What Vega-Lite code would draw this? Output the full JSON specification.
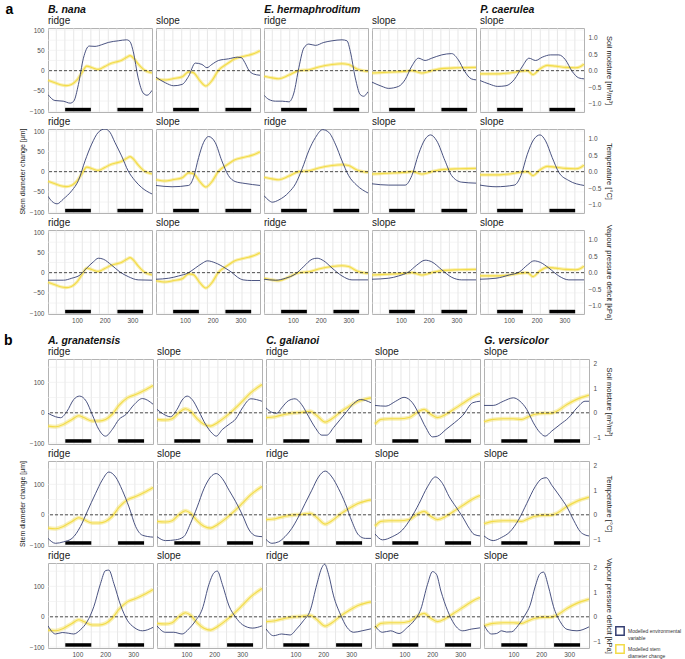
{
"$schema":"https://vega.github.io/schema/vega-lite/v6.json",
"padding":{"left":3,"top":3,"right":3,"bottom":3},
"config":{"font":"Liberation Sans","view":{"stroke":"#b3b3b3","strokeWidth":1},
"axis":{"labelFontSize":6.5,"labelColor":"#4d4d4d","titleFontSize":7.5,"titleFontWeight":"normal","titleColor":"#1a1a1a","domain":false,"ticks":false,"labelPadding":3,"titlePadding":4,"grid":false},
"header":{"labelFontSize":10,"labelColor":"#1a1a1a","labelAnchor":"start","labelPadding":2},
"concat":{"spacing":4},"facet":{"spacing":4}},
"datasets":{
"bars":[{"start":57,"end":150},{"start":246,"end":339}],
"months":[{"m":25},{"m":56},{"m":88},{"m":119},{"m":150},{"m":181},{"m":213},{"m":244},{"m":275},{"m":306},{"m":338}],
"gA":[{"g":-100},{"g":-75},{"g":-50},{"g":-25},{"g":0},{"g":25},{"g":50},{"g":75},{"g":100}],
"gB":[{"g":-100},{"g":-50},{"g":0},{"g":50},{"g":100},{"g":150}],
"a":[
{"p":"B. nana ridge","v":"S","d":-5,"y":-24},{"p":"B. nana ridge","v":"S","d":20,"y":-30},{"p":"B. nana ridge","v":"S","d":40,"y":-35},{"p":"B. nana ridge","v":"S","d":60,"y":-37},{"p":"B. nana ridge","v":"S","d":80,"y":-34},{"p":"B. nana ridge","v":"S","d":100,"y":-23},{"p":"B. nana ridge","v":"S","d":117,"y":-6},{"p":"B. nana ridge","v":"S","d":135,"y":11},{"p":"B. nana ridge","v":"S","d":155,"y":7},{"p":"B. nana ridge","v":"S","d":177,"y":3},{"p":"B. nana ridge","v":"S","d":200,"y":10},{"p":"B. nana ridge","v":"S","d":220,"y":17},{"p":"B. nana ridge","v":"S","d":240,"y":21},{"p":"B. nana ridge","v":"S","d":260,"y":25},{"p":"B. nana ridge","v":"S","d":280,"y":33},{"p":"B. nana ridge","v":"S","d":292,"y":37},{"p":"B. nana ridge","v":"S","d":305,"y":30},{"p":"B. nana ridge","v":"S","d":320,"y":17},{"p":"B. nana ridge","v":"S","d":340,"y":3},{"p":"B. nana ridge","v":"S","d":371,"y":-6},
{"p":"B. nana slope","v":"S","d":-5,"y":-20},{"p":"B. nana slope","v":"S","d":30,"y":-23},{"p":"B. nana slope","v":"S","d":55,"y":-20},{"p":"B. nana slope","v":"S","d":90,"y":-15},{"p":"B. nana slope","v":"S","d":113,"y":-3},{"p":"B. nana slope","v":"S","d":130,"y":-5},{"p":"B. nana slope","v":"S","d":155,"y":-26},{"p":"B. nana slope","v":"S","d":175,"y":-38},{"p":"B. nana slope","v":"S","d":197,"y":-25},{"p":"B. nana slope","v":"S","d":220,"y":0},{"p":"B. nana slope","v":"S","d":255,"y":18},{"p":"B. nana slope","v":"S","d":280,"y":29},{"p":"B. nana slope","v":"S","d":305,"y":34},{"p":"B. nana slope","v":"S","d":330,"y":38},{"p":"B. nana slope","v":"S","d":350,"y":42},{"p":"B. nana slope","v":"S","d":371,"y":49},
{"p":"E. hermaphroditum ridge","v":"S","d":-5,"y":-14},{"p":"E. hermaphroditum ridge","v":"S","d":25,"y":-18},{"p":"E. hermaphroditum ridge","v":"S","d":49,"y":-20},{"p":"E. hermaphroditum ridge","v":"S","d":85,"y":-11},{"p":"E. hermaphroditum ridge","v":"S","d":121,"y":0},{"p":"E. hermaphroditum ridge","v":"S","d":157,"y":2},{"p":"E. hermaphroditum ridge","v":"S","d":193,"y":9},{"p":"E. hermaphroditum ridge","v":"S","d":241,"y":15},{"p":"E. hermaphroditum ridge","v":"S","d":277,"y":17},{"p":"E. hermaphroditum ridge","v":"S","d":301,"y":15},{"p":"E. hermaphroditum ridge","v":"S","d":331,"y":4},{"p":"E. hermaphroditum ridge","v":"S","d":371,"y":-2},
{"p":"E. hermaphroditum slope","v":"S","d":-5,"y":-6},{"p":"E. hermaphroditum slope","v":"S","d":55,"y":-4},{"p":"E. hermaphroditum slope","v":"S","d":115,"y":-2},{"p":"E. hermaphroditum slope","v":"S","d":139,"y":0},{"p":"E. hermaphroditum slope","v":"S","d":175,"y":-6},{"p":"E. hermaphroditum slope","v":"S","d":211,"y":0},{"p":"E. hermaphroditum slope","v":"S","d":247,"y":5},{"p":"E. hermaphroditum slope","v":"S","d":307,"y":7},{"p":"E. hermaphroditum slope","v":"S","d":371,"y":8},
{"p":"P. caerulea slope","v":"S","d":-5,"y":-8},{"p":"P. caerulea slope","v":"S","d":30,"y":-8},{"p":"P. caerulea slope","v":"S","d":65,"y":-8},{"p":"P. caerulea slope","v":"S","d":101,"y":-6},{"p":"P. caerulea slope","v":"S","d":137,"y":-2},{"p":"P. caerulea slope","v":"S","d":166,"y":0},{"p":"P. caerulea slope","v":"S","d":187,"y":-10},{"p":"P. caerulea slope","v":"S","d":208,"y":2},{"p":"P. caerulea slope","v":"S","d":238,"y":13},{"p":"P. caerulea slope","v":"S","d":268,"y":11},{"p":"P. caerulea slope","v":"S","d":304,"y":8},{"p":"P. caerulea slope","v":"S","d":340,"y":7},{"p":"P. caerulea slope","v":"S","d":355,"y":9},{"p":"P. caerulea slope","v":"S","d":371,"y":16},
{"p":"B. nana ridge","v":"SM","d":-5,"y":-0.73},{"p":"B. nana ridge","v":"SM","d":20,"y":-0.91},{"p":"B. nana ridge","v":"SM","d":50,"y":-0.93},{"p":"B. nana ridge","v":"SM","d":75,"y":-0.99},{"p":"B. nana ridge","v":"SM","d":88,"y":-0.93},{"p":"B. nana ridge","v":"SM","d":105,"y":-0.42},{"p":"B. nana ridge","v":"SM","d":123,"y":0.38},{"p":"B. nana ridge","v":"SM","d":144,"y":0.75},{"p":"B. nana ridge","v":"SM","d":165,"y":0.74},{"p":"B. nana ridge","v":"SM","d":189,"y":0.79},{"p":"B. nana ridge","v":"SM","d":213,"y":0.86},{"p":"B. nana ridge","v":"SM","d":249,"y":0.91},{"p":"B. nana ridge","v":"SM","d":279,"y":0.94},{"p":"B. nana ridge","v":"SM","d":291,"y":0.89},{"p":"B. nana ridge","v":"SM","d":303,"y":0.59},{"p":"B. nana ridge","v":"SM","d":321,"y":-0.22},{"p":"B. nana ridge","v":"SM","d":339,"y":-0.68},{"p":"B. nana ridge","v":"SM","d":353,"y":-0.75},{"p":"B. nana ridge","v":"SM","d":371,"y":-0.6},
{"p":"B. nana slope","v":"SM","d":-5,"y":-0.2},{"p":"B. nana slope","v":"SM","d":29,"y":-0.37},{"p":"B. nana slope","v":"SM","d":59,"y":-0.46},{"p":"B. nana slope","v":"SM","d":89,"y":-0.42},{"p":"B. nana slope","v":"SM","d":113,"y":-0.17},{"p":"B. nana slope","v":"SM","d":137,"y":0.23},{"p":"B. nana slope","v":"SM","d":161,"y":0.19},{"p":"B. nana slope","v":"SM","d":179,"y":0.09},{"p":"B. nana slope","v":"SM","d":197,"y":0.19},{"p":"B. nana slope","v":"SM","d":221,"y":0.31},{"p":"B. nana slope","v":"SM","d":257,"y":0.36},{"p":"B. nana slope","v":"SM","d":290,"y":0.41},{"p":"B. nana slope","v":"SM","d":303,"y":0.4},{"p":"B. nana slope","v":"SM","d":316,"y":0.25},{"p":"B. nana slope","v":"SM","d":330,"y":0.02},{"p":"B. nana slope","v":"SM","d":347,"y":-0.1},{"p":"B. nana slope","v":"SM","d":371,"y":-0.14},
{"p":"E. hermaphroditum ridge","v":"SM","d":-5,"y":-0.75},{"p":"E. hermaphroditum ridge","v":"SM","d":13,"y":-0.88},{"p":"E. hermaphroditum ridge","v":"SM","d":37,"y":-0.93},{"p":"E. hermaphroditum ridge","v":"SM","d":61,"y":-0.93},{"p":"E. hermaphroditum ridge","v":"SM","d":85,"y":-0.95},{"p":"E. hermaphroditum ridge","v":"SM","d":103,"y":-0.68},{"p":"E. hermaphroditum ridge","v":"SM","d":121,"y":0.09},{"p":"E. hermaphroditum ridge","v":"SM","d":139,"y":0.69},{"p":"E. hermaphroditum ridge","v":"SM","d":157,"y":0.81},{"p":"E. hermaphroditum ridge","v":"SM","d":181,"y":0.77},{"p":"E. hermaphroditum ridge","v":"SM","d":211,"y":0.86},{"p":"E. hermaphroditum ridge","v":"SM","d":241,"y":0.91},{"p":"E. hermaphroditum ridge","v":"SM","d":277,"y":0.94},{"p":"E. hermaphroditum ridge","v":"SM","d":295,"y":0.91},{"p":"E. hermaphroditum ridge","v":"SM","d":307,"y":0.59},{"p":"E. hermaphroditum ridge","v":"SM","d":325,"y":-0.22},{"p":"E. hermaphroditum ridge","v":"SM","d":343,"y":-0.73},{"p":"E. hermaphroditum ridge","v":"SM","d":355,"y":-0.78},{"p":"E. hermaphroditum ridge","v":"SM","d":371,"y":-0.64},
{"p":"E. hermaphroditum slope","v":"SM","d":-5,"y":-0.35},{"p":"E. hermaphroditum slope","v":"SM","d":31,"y":-0.48},{"p":"E. hermaphroditum slope","v":"SM","d":55,"y":-0.54},{"p":"E. hermaphroditum slope","v":"SM","d":91,"y":-0.48},{"p":"E. hermaphroditum slope","v":"SM","d":115,"y":-0.27},{"p":"E. hermaphroditum slope","v":"SM","d":139,"y":0.14},{"p":"E. hermaphroditum slope","v":"SM","d":163,"y":0.38},{"p":"E. hermaphroditum slope","v":"SM","d":187,"y":0.31},{"p":"E. hermaphroditum slope","v":"SM","d":211,"y":0.38},{"p":"E. hermaphroditum slope","v":"SM","d":247,"y":0.48},{"p":"E. hermaphroditum slope","v":"SM","d":283,"y":0.52},{"p":"E. hermaphroditum slope","v":"SM","d":307,"y":0.33},{"p":"E. hermaphroditum slope","v":"SM","d":330,"y":-0.02},{"p":"E. hermaphroditum slope","v":"SM","d":354,"y":-0.25},{"p":"E. hermaphroditum slope","v":"SM","d":371,"y":-0.28},
{"p":"P. caerulea slope","v":"SM","d":-5,"y":-0.3},{"p":"P. caerulea slope","v":"SM","d":29,"y":-0.41},{"p":"P. caerulea slope","v":"SM","d":59,"y":-0.48},{"p":"P. caerulea slope","v":"SM","d":89,"y":-0.46},{"p":"P. caerulea slope","v":"SM","d":119,"y":-0.27},{"p":"P. caerulea slope","v":"SM","d":149,"y":0.14},{"p":"P. caerulea slope","v":"SM","d":172,"y":0.38},{"p":"P. caerulea slope","v":"SM","d":196,"y":0.31},{"p":"P. caerulea slope","v":"SM","d":220,"y":0.41},{"p":"P. caerulea slope","v":"SM","d":250,"y":0.48},{"p":"P. caerulea slope","v":"SM","d":280,"y":0.48},{"p":"P. caerulea slope","v":"SM","d":304,"y":0.33},{"p":"P. caerulea slope","v":"SM","d":328,"y":-0.02},{"p":"P. caerulea slope","v":"SM","d":352,"y":-0.22},{"p":"P. caerulea slope","v":"SM","d":371,"y":-0.25},
{"p":"B. nana ridge","v":"T","d":-5,"y":-0.75},{"p":"B. nana ridge","v":"T","d":10,"y":-0.91},{"p":"B. nana ridge","v":"T","d":28,"y":-0.98},{"p":"B. nana ridge","v":"T","d":51,"y":-0.83},{"p":"B. nana ridge","v":"T","d":81,"y":-0.58},{"p":"B. nana ridge","v":"T","d":105,"y":-0.27},{"p":"B. nana ridge","v":"T","d":129,"y":0.33},{"p":"B. nana ridge","v":"T","d":153,"y":0.84},{"p":"B. nana ridge","v":"T","d":177,"y":1.2},{"p":"B. nana ridge","v":"T","d":201,"y":1.3},{"p":"B. nana ridge","v":"T","d":219,"y":1.2},{"p":"B. nana ridge","v":"T","d":237,"y":0.89},{"p":"B. nana ridge","v":"T","d":261,"y":0.48},{"p":"B. nana ridge","v":"T","d":285,"y":0.02},{"p":"B. nana ridge","v":"T","d":309,"y":-0.27},{"p":"B. nana ridge","v":"T","d":333,"y":-0.48},{"p":"B. nana ridge","v":"T","d":371,"y":-0.68},
{"p":"B. nana slope","v":"T","d":-5,"y":-0.42},{"p":"B. nana slope","v":"T","d":53,"y":-0.46},{"p":"B. nana slope","v":"T","d":113,"y":-0.42},{"p":"B. nana slope","v":"T","d":131,"y":-0.17},{"p":"B. nana slope","v":"T","d":149,"y":0.43},{"p":"B. nana slope","v":"T","d":167,"y":0.89},{"p":"B. nana slope","v":"T","d":185,"y":1.07},{"p":"B. nana slope","v":"T","d":209,"y":0.89},{"p":"B. nana slope","v":"T","d":233,"y":0.33},{"p":"B. nana slope","v":"T","d":257,"y":-0.12},{"p":"B. nana slope","v":"T","d":281,"y":-0.3},{"p":"B. nana slope","v":"T","d":317,"y":-0.36},{"p":"B. nana slope","v":"T","d":371,"y":-0.42},
{"p":"E. hermaphroditum ridge","v":"T","d":-5,"y":-0.73},{"p":"E. hermaphroditum ridge","v":"T","d":13,"y":-0.88},{"p":"E. hermaphroditum ridge","v":"T","d":25,"y":-0.93},{"p":"E. hermaphroditum ridge","v":"T","d":49,"y":-0.86},{"p":"E. hermaphroditum ridge","v":"T","d":85,"y":-0.63},{"p":"E. hermaphroditum ridge","v":"T","d":109,"y":-0.37},{"p":"E. hermaphroditum ridge","v":"T","d":133,"y":0.09},{"p":"E. hermaphroditum ridge","v":"T","d":157,"y":0.64},{"p":"E. hermaphroditum ridge","v":"T","d":181,"y":1.04},{"p":"E. hermaphroditum ridge","v":"T","d":207,"y":1.28},{"p":"E. hermaphroditum ridge","v":"T","d":229,"y":1.2},{"p":"E. hermaphroditum ridge","v":"T","d":253,"y":0.84},{"p":"E. hermaphroditum ridge","v":"T","d":277,"y":0.33},{"p":"E. hermaphroditum ridge","v":"T","d":301,"y":-0.12},{"p":"E. hermaphroditum ridge","v":"T","d":331,"y":-0.42},{"p":"E. hermaphroditum ridge","v":"T","d":371,"y":-0.65},
{"p":"E. hermaphroditum slope","v":"T","d":-5,"y":-0.37},{"p":"E. hermaphroditum slope","v":"T","d":55,"y":-0.41},{"p":"E. hermaphroditum slope","v":"T","d":115,"y":-0.41},{"p":"E. hermaphroditum slope","v":"T","d":139,"y":-0.12},{"p":"E. hermaphroditum slope","v":"T","d":163,"y":0.53},{"p":"E. hermaphroditum slope","v":"T","d":187,"y":0.99},{"p":"E. hermaphroditum slope","v":"T","d":207,"y":1.12},{"p":"E. hermaphroditum slope","v":"T","d":229,"y":0.94},{"p":"E. hermaphroditum slope","v":"T","d":259,"y":0.33},{"p":"E. hermaphroditum slope","v":"T","d":283,"y":-0.12},{"p":"E. hermaphroditum slope","v":"T","d":319,"y":-0.32},{"p":"E. hermaphroditum slope","v":"T","d":371,"y":-0.35},
{"p":"P. caerulea slope","v":"T","d":-5,"y":-0.41},{"p":"P. caerulea slope","v":"T","d":53,"y":-0.46},{"p":"P. caerulea slope","v":"T","d":119,"y":-0.41},{"p":"P. caerulea slope","v":"T","d":143,"y":-0.12},{"p":"P. caerulea slope","v":"T","d":166,"y":0.53},{"p":"P. caerulea slope","v":"T","d":190,"y":0.99},{"p":"P. caerulea slope","v":"T","d":212,"y":1.12},{"p":"P. caerulea slope","v":"T","d":232,"y":0.94},{"p":"P. caerulea slope","v":"T","d":256,"y":0.43},{"p":"P. caerulea slope","v":"T","d":280,"y":-0.02},{"p":"P. caerulea slope","v":"T","d":316,"y":-0.27},{"p":"P. caerulea slope","v":"T","d":371,"y":-0.42},
{"p":"B. nana ridge","v":"VPD","d":-5,"y":-0.23},{"p":"B. nana ridge","v":"VPD","d":51,"y":-0.23},{"p":"B. nana ridge","v":"VPD","d":81,"y":-0.17},{"p":"B. nana ridge","v":"VPD","d":111,"y":-0.07},{"p":"B. nana ridge","v":"VPD","d":135,"y":0.14},{"p":"B. nana ridge","v":"VPD","d":159,"y":0.33},{"p":"B. nana ridge","v":"VPD","d":177,"y":0.44},{"p":"B. nana ridge","v":"VPD","d":195,"y":0.41},{"p":"B. nana ridge","v":"VPD","d":225,"y":0.23},{"p":"B. nana ridge","v":"VPD","d":255,"y":0.02},{"p":"B. nana ridge","v":"VPD","d":285,"y":-0.12},{"p":"B. nana ridge","v":"VPD","d":321,"y":-0.22},{"p":"B. nana ridge","v":"VPD","d":371,"y":-0.23},
{"p":"B. nana slope","v":"VPD","d":-5,"y":-0.2},{"p":"B. nana slope","v":"VPD","d":41,"y":-0.17},{"p":"B. nana slope","v":"VPD","d":77,"y":-0.1},{"p":"B. nana slope","v":"VPD","d":113,"y":0.0},{"p":"B. nana slope","v":"VPD","d":137,"y":0.14},{"p":"B. nana slope","v":"VPD","d":161,"y":0.28},{"p":"B. nana slope","v":"VPD","d":181,"y":0.36},{"p":"B. nana slope","v":"VPD","d":209,"y":0.3},{"p":"B. nana slope","v":"VPD","d":245,"y":0.14},{"p":"B. nana slope","v":"VPD","d":270,"y":0.0},{"p":"B. nana slope","v":"VPD","d":290,"y":-0.14},{"p":"B. nana slope","v":"VPD","d":310,"y":-0.22},{"p":"B. nana slope","v":"VPD","d":340,"y":-0.24},{"p":"B. nana slope","v":"VPD","d":371,"y":-0.24},
{"p":"E. hermaphroditum ridge","v":"VPD","d":-5,"y":-0.2},{"p":"E. hermaphroditum ridge","v":"VPD","d":37,"y":-0.23},{"p":"E. hermaphroditum ridge","v":"VPD","d":73,"y":-0.17},{"p":"E. hermaphroditum ridge","v":"VPD","d":109,"y":-0.04},{"p":"E. hermaphroditum ridge","v":"VPD","d":139,"y":0.19},{"p":"E. hermaphroditum ridge","v":"VPD","d":169,"y":0.41},{"p":"E. hermaphroditum ridge","v":"VPD","d":187,"y":0.44},{"p":"E. hermaphroditum ridge","v":"VPD","d":211,"y":0.36},{"p":"E. hermaphroditum ridge","v":"VPD","d":241,"y":0.14},{"p":"E. hermaphroditum ridge","v":"VPD","d":277,"y":-0.1},{"p":"E. hermaphroditum ridge","v":"VPD","d":313,"y":-0.22},{"p":"E. hermaphroditum ridge","v":"VPD","d":371,"y":-0.22},
{"p":"E. hermaphroditum slope","v":"VPD","d":-5,"y":-0.2},{"p":"E. hermaphroditum slope","v":"VPD","d":55,"y":-0.17},{"p":"E. hermaphroditum slope","v":"VPD","d":91,"y":-0.1},{"p":"E. hermaphroditum slope","v":"VPD","d":127,"y":0.02},{"p":"E. hermaphroditum slope","v":"VPD","d":157,"y":0.23},{"p":"E. hermaphroditum slope","v":"VPD","d":187,"y":0.38},{"p":"E. hermaphroditum slope","v":"VPD","d":211,"y":0.33},{"p":"E. hermaphroditum slope","v":"VPD","d":247,"y":0.09},{"p":"E. hermaphroditum slope","v":"VPD","d":283,"y":-0.14},{"p":"E. hermaphroditum slope","v":"VPD","d":319,"y":-0.22},{"p":"E. hermaphroditum slope","v":"VPD","d":371,"y":-0.22},
{"p":"P. caerulea slope","v":"VPD","d":-5,"y":-0.2},{"p":"P. caerulea slope","v":"VPD","d":53,"y":-0.17},{"p":"P. caerulea slope","v":"VPD","d":101,"y":-0.07},{"p":"P. caerulea slope","v":"VPD","d":137,"y":0.02},{"p":"P. caerulea slope","v":"VPD","d":166,"y":0.23},{"p":"P. caerulea slope","v":"VPD","d":190,"y":0.36},{"p":"P. caerulea slope","v":"VPD","d":214,"y":0.31},{"p":"P. caerulea slope","v":"VPD","d":244,"y":0.14},{"p":"P. caerulea slope","v":"VPD","d":280,"y":-0.1},{"p":"P. caerulea slope","v":"VPD","d":316,"y":-0.22},{"p":"P. caerulea slope","v":"VPD","d":371,"y":-0.22}
],
"b":[
{"p":"A. granatensis ridge","v":"S","d":-5,"y":-44},{"p":"A. granatensis ridge","v":"S","d":22,"y":-46},{"p":"A. granatensis ridge","v":"S","d":51,"y":-38},{"p":"A. granatensis ridge","v":"S","d":81,"y":-22},{"p":"A. granatensis ridge","v":"S","d":105,"y":-10},{"p":"A. granatensis ridge","v":"S","d":123,"y":-16},{"p":"A. granatensis ridge","v":"S","d":153,"y":-27},{"p":"A. granatensis ridge","v":"S","d":177,"y":-27},{"p":"A. granatensis ridge","v":"S","d":201,"y":-22},{"p":"A. granatensis ridge","v":"S","d":225,"y":-5},{"p":"A. granatensis ridge","v":"S","d":249,"y":24},{"p":"A. granatensis ridge","v":"S","d":279,"y":49},{"p":"A. granatensis ridge","v":"S","d":309,"y":60},{"p":"A. granatensis ridge","v":"S","d":339,"y":73},{"p":"A. granatensis ridge","v":"S","d":371,"y":90},
{"p":"A. granatensis slope","v":"S","d":-5,"y":-22},{"p":"A. granatensis slope","v":"S","d":25,"y":-24},{"p":"A. granatensis slope","v":"S","d":49,"y":-20},{"p":"A. granatensis slope","v":"S","d":73,"y":0},{"p":"A. granatensis slope","v":"S","d":97,"y":13},{"p":"A. granatensis slope","v":"S","d":115,"y":5},{"p":"A. granatensis slope","v":"S","d":139,"y":-20},{"p":"A. granatensis slope","v":"S","d":163,"y":-38},{"p":"A. granatensis slope","v":"S","d":187,"y":-44},{"p":"A. granatensis slope","v":"S","d":211,"y":-33},{"p":"A. granatensis slope","v":"S","d":241,"y":-13},{"p":"A. granatensis slope","v":"S","d":271,"y":11},{"p":"A. granatensis slope","v":"S","d":301,"y":38},{"p":"A. granatensis slope","v":"S","d":331,"y":66},{"p":"A. granatensis slope","v":"S","d":371,"y":93},
{"p":"C. galianoi ridge","v":"S","d":-5,"y":-16},{"p":"C. galianoi ridge","v":"S","d":28,"y":-13},{"p":"C. galianoi ridge","v":"S","d":63,"y":-5},{"p":"C. galianoi ridge","v":"S","d":99,"y":0},{"p":"C. galianoi ridge","v":"S","d":129,"y":2},{"p":"C. galianoi ridge","v":"S","d":153,"y":5},{"p":"C. galianoi ridge","v":"S","d":177,"y":-9},{"p":"C. galianoi ridge","v":"S","d":207,"y":-31},{"p":"C. galianoi ridge","v":"S","d":231,"y":-20},{"p":"C. galianoi ridge","v":"S","d":261,"y":2},{"p":"C. galianoi ridge","v":"S","d":291,"y":20},{"p":"C. galianoi ridge","v":"S","d":327,"y":38},{"p":"C. galianoi ridge","v":"S","d":371,"y":49},
{"p":"C. galianoi slope","v":"S","d":-5,"y":-38},{"p":"C. galianoi slope","v":"S","d":16,"y":-22},{"p":"C. galianoi slope","v":"S","d":46,"y":-20},{"p":"C. galianoi slope","v":"S","d":81,"y":-20},{"p":"C. galianoi slope","v":"S","d":117,"y":-16},{"p":"C. galianoi slope","v":"S","d":147,"y":2},{"p":"C. galianoi slope","v":"S","d":171,"y":11},{"p":"C. galianoi slope","v":"S","d":195,"y":-5},{"p":"C. galianoi slope","v":"S","d":219,"y":-16},{"p":"C. galianoi slope","v":"S","d":249,"y":-5},{"p":"C. galianoi slope","v":"S","d":285,"y":16},{"p":"C. galianoi slope","v":"S","d":321,"y":38},{"p":"C. galianoi slope","v":"S","d":345,"y":52},{"p":"C. galianoi slope","v":"S","d":371,"y":63},
{"p":"G. versicolor slope","v":"S","d":-5,"y":-30},{"p":"G. versicolor slope","v":"S","d":28,"y":-22},{"p":"G. versicolor slope","v":"S","d":64,"y":-20},{"p":"G. versicolor slope","v":"S","d":100,"y":-20},{"p":"G. versicolor slope","v":"S","d":130,"y":-22},{"p":"G. versicolor slope","v":"S","d":154,"y":-13},{"p":"G. versicolor slope","v":"S","d":178,"y":-5},{"p":"G. versicolor slope","v":"S","d":208,"y":-2},{"p":"G. versicolor slope","v":"S","d":232,"y":-2},{"p":"G. versicolor slope","v":"S","d":256,"y":5},{"p":"G. versicolor slope","v":"S","d":292,"y":27},{"p":"G. versicolor slope","v":"S","d":327,"y":44},{"p":"G. versicolor slope","v":"S","d":371,"y":58},
{"p":"A. granatensis ridge","v":"SM","d":-5,"y":-0.02},{"p":"A. granatensis ridge","v":"SM","d":22,"y":-0.16},{"p":"A. granatensis ridge","v":"SM","d":40,"y":-0.2},{"p":"A. granatensis ridge","v":"SM","d":63,"y":0.06},{"p":"A. granatensis ridge","v":"SM","d":87,"y":0.54},{"p":"A. granatensis ridge","v":"SM","d":108,"y":0.68},{"p":"A. granatensis ridge","v":"SM","d":132,"y":0.47},{"p":"A. granatensis ridge","v":"SM","d":153,"y":-0.06},{"p":"A. granatensis ridge","v":"SM","d":177,"y":-0.68},{"p":"A. granatensis ridge","v":"SM","d":201,"y":-0.95},{"p":"A. granatensis ridge","v":"SM","d":225,"y":-0.68},{"p":"A. granatensis ridge","v":"SM","d":249,"y":-0.27},{"p":"A. granatensis ridge","v":"SM","d":275,"y":-0.06},{"p":"A. granatensis ridge","v":"SM","d":303,"y":0.33},{"p":"A. granatensis ridge","v":"SM","d":333,"y":0.58},{"p":"A. granatensis ridge","v":"SM","d":371,"y":0.35},
{"p":"A. granatensis slope","v":"SM","d":-5,"y":0.14},{"p":"A. granatensis slope","v":"SM","d":19,"y":-0.06},{"p":"A. granatensis slope","v":"SM","d":43,"y":-0.16},{"p":"A. granatensis slope","v":"SM","d":67,"y":0.14},{"p":"A. granatensis slope","v":"SM","d":85,"y":0.52},{"p":"A. granatensis slope","v":"SM","d":103,"y":0.68},{"p":"A. granatensis slope","v":"SM","d":121,"y":0.54},{"p":"A. granatensis slope","v":"SM","d":145,"y":0.06},{"p":"A. granatensis slope","v":"SM","d":169,"y":-0.47},{"p":"A. granatensis slope","v":"SM","d":193,"y":-0.84},{"p":"A. granatensis slope","v":"SM","d":207,"y":-0.95},{"p":"A. granatensis slope","v":"SM","d":229,"y":-0.68},{"p":"A. granatensis slope","v":"SM","d":253,"y":-0.47},{"p":"A. granatensis slope","v":"SM","d":277,"y":-0.25},{"p":"A. granatensis slope","v":"SM","d":301,"y":0.2},{"p":"A. granatensis slope","v":"SM","d":331,"y":0.57},{"p":"A. granatensis slope","v":"SM","d":371,"y":0.47},
{"p":"C. galianoi ridge","v":"SM","d":-5,"y":0.2},{"p":"C. galianoi ridge","v":"SM","d":16,"y":0.02},{"p":"C. galianoi ridge","v":"SM","d":34,"y":-0.02},{"p":"C. galianoi ridge","v":"SM","d":51,"y":0.2},{"p":"C. galianoi ridge","v":"SM","d":75,"y":0.49},{"p":"C. galianoi ridge","v":"SM","d":99,"y":0.57},{"p":"C. galianoi ridge","v":"SM","d":123,"y":0.33},{"p":"C. galianoi ridge","v":"SM","d":147,"y":-0.14},{"p":"C. galianoi ridge","v":"SM","d":171,"y":-0.6},{"p":"C. galianoi ridge","v":"SM","d":195,"y":-0.91},{"p":"C. galianoi ridge","v":"SM","d":213,"y":-0.91},{"p":"C. galianoi ridge","v":"SM","d":237,"y":-0.6},{"p":"C. galianoi ridge","v":"SM","d":261,"y":-0.27},{"p":"C. galianoi ridge","v":"SM","d":285,"y":0.06},{"p":"C. galianoi ridge","v":"SM","d":309,"y":0.38},{"p":"C. galianoi ridge","v":"SM","d":333,"y":0.54},{"p":"C. galianoi ridge","v":"SM","d":371,"y":0.41},
{"p":"C. galianoi slope","v":"SM","d":-5,"y":0.3},{"p":"C. galianoi slope","v":"SM","d":34,"y":0.27},{"p":"C. galianoi slope","v":"SM","d":69,"y":0.47},{"p":"C. galianoi slope","v":"SM","d":99,"y":0.63},{"p":"C. galianoi slope","v":"SM","d":129,"y":0.41},{"p":"C. galianoi slope","v":"SM","d":153,"y":-0.06},{"p":"C. galianoi slope","v":"SM","d":177,"y":-0.6},{"p":"C. galianoi slope","v":"SM","d":201,"y":-0.98},{"p":"C. galianoi slope","v":"SM","d":219,"y":-0.95},{"p":"C. galianoi slope","v":"SM","d":249,"y":-0.68},{"p":"C. galianoi slope","v":"SM","d":279,"y":-0.41},{"p":"C. galianoi slope","v":"SM","d":309,"y":-0.11},{"p":"C. galianoi slope","v":"SM","d":345,"y":0.41},{"p":"C. galianoi slope","v":"SM","d":371,"y":0.47},
{"p":"G. versicolor slope","v":"SM","d":-5,"y":0.3},{"p":"G. versicolor slope","v":"SM","d":28,"y":0.3},{"p":"G. versicolor slope","v":"SM","d":64,"y":0.47},{"p":"G. versicolor slope","v":"SM","d":100,"y":0.61},{"p":"G. versicolor slope","v":"SM","d":124,"y":0.47},{"p":"G. versicolor slope","v":"SM","d":148,"y":0.14},{"p":"G. versicolor slope","v":"SM","d":172,"y":-0.41},{"p":"G. versicolor slope","v":"SM","d":196,"y":-0.81},{"p":"G. versicolor slope","v":"SM","d":214,"y":-0.95},{"p":"G. versicolor slope","v":"SM","d":238,"y":-0.74},{"p":"G. versicolor slope","v":"SM","d":268,"y":-0.47},{"p":"G. versicolor slope","v":"SM","d":298,"y":-0.2},{"p":"G. versicolor slope","v":"SM","d":328,"y":0.2},{"p":"G. versicolor slope","v":"SM","d":357,"y":0.47},{"p":"G. versicolor slope","v":"SM","d":371,"y":0.47},
{"p":"A. granatensis ridge","v":"T","d":-5,"y":-0.96},{"p":"A. granatensis ridge","v":"T","d":22,"y":-1.16},{"p":"A. granatensis ridge","v":"T","d":51,"y":-1.1},{"p":"A. granatensis ridge","v":"T","d":81,"y":-0.96},{"p":"A. granatensis ridge","v":"T","d":111,"y":-0.48},{"p":"A. granatensis ridge","v":"T","d":135,"y":0.12},{"p":"A. granatensis ridge","v":"T","d":165,"y":0.86},{"p":"A. granatensis ridge","v":"T","d":189,"y":1.41},{"p":"A. granatensis ridge","v":"T","d":213,"y":1.74},{"p":"A. granatensis ridge","v":"T","d":237,"y":1.54},{"p":"A. granatensis ridge","v":"T","d":261,"y":1.0},{"p":"A. granatensis ridge","v":"T","d":285,"y":0.32},{"p":"A. granatensis ridge","v":"T","d":309,"y":-0.48},{"p":"A. granatensis ridge","v":"T","d":333,"y":-0.83},{"p":"A. granatensis ridge","v":"T","d":371,"y":-0.91},
{"p":"A. granatensis slope","v":"T","d":-5,"y":-0.89},{"p":"A. granatensis slope","v":"T","d":25,"y":-1.05},{"p":"A. granatensis slope","v":"T","d":61,"y":-1.02},{"p":"A. granatensis slope","v":"T","d":91,"y":-0.89},{"p":"A. granatensis slope","v":"T","d":115,"y":-0.35},{"p":"A. granatensis slope","v":"T","d":139,"y":0.32},{"p":"A. granatensis slope","v":"T","d":163,"y":1.06},{"p":"A. granatensis slope","v":"T","d":187,"y":1.54},{"p":"A. granatensis slope","v":"T","d":207,"y":1.68},{"p":"A. granatensis slope","v":"T","d":229,"y":1.47},{"p":"A. granatensis slope","v":"T","d":253,"y":1.0},{"p":"A. granatensis slope","v":"T","d":277,"y":0.53},{"p":"A. granatensis slope","v":"T","d":301,"y":-0.01},{"p":"A. granatensis slope","v":"T","d":325,"y":-0.62},{"p":"A. granatensis slope","v":"T","d":349,"y":-0.86},{"p":"A. granatensis slope","v":"T","d":371,"y":-0.89},
{"p":"C. galianoi ridge","v":"T","d":-5,"y":-1.0},{"p":"C. galianoi ridge","v":"T","d":16,"y":-1.16},{"p":"C. galianoi ridge","v":"T","d":40,"y":-1.1},{"p":"C. galianoi ridge","v":"T","d":63,"y":-0.89},{"p":"C. galianoi ridge","v":"T","d":87,"y":-0.56},{"p":"C. galianoi ridge","v":"T","d":111,"y":-0.09},{"p":"C. galianoi ridge","v":"T","d":135,"y":0.46},{"p":"C. galianoi ridge","v":"T","d":159,"y":1.0},{"p":"C. galianoi ridge","v":"T","d":183,"y":1.54},{"p":"C. galianoi ridge","v":"T","d":207,"y":1.78},{"p":"C. galianoi ridge","v":"T","d":231,"y":1.54},{"p":"C. galianoi ridge","v":"T","d":255,"y":1.06},{"p":"C. galianoi ridge","v":"T","d":279,"y":0.46},{"p":"C. galianoi ridge","v":"T","d":303,"y":-0.28},{"p":"C. galianoi ridge","v":"T","d":327,"y":-0.83},{"p":"C. galianoi ridge","v":"T","d":351,"y":-0.96},{"p":"C. galianoi ridge","v":"T","d":371,"y":-0.96},
{"p":"C. galianoi slope","v":"T","d":-5,"y":-0.78},{"p":"C. galianoi slope","v":"T","d":22,"y":-1.02},{"p":"C. galianoi slope","v":"T","d":57,"y":-0.89},{"p":"C. galianoi slope","v":"T","d":93,"y":-0.62},{"p":"C. galianoi slope","v":"T","d":123,"y":-0.15},{"p":"C. galianoi slope","v":"T","d":153,"y":0.46},{"p":"C. galianoi slope","v":"T","d":183,"y":1.14},{"p":"C. galianoi slope","v":"T","d":211,"y":1.54},{"p":"C. galianoi slope","v":"T","d":237,"y":1.27},{"p":"C. galianoi slope","v":"T","d":261,"y":0.73},{"p":"C. galianoi slope","v":"T","d":285,"y":0.32},{"p":"C. galianoi slope","v":"T","d":309,"y":-0.09},{"p":"C. galianoi slope","v":"T","d":333,"y":-0.56},{"p":"C. galianoi slope","v":"T","d":350,"y":-0.8},{"p":"C. galianoi slope","v":"T","d":371,"y":-0.86},
{"p":"G. versicolor slope","v":"T","d":-5,"y":-0.86},{"p":"G. versicolor slope","v":"T","d":28,"y":-1.05},{"p":"G. versicolor slope","v":"T","d":58,"y":-0.92},{"p":"G. versicolor slope","v":"T","d":88,"y":-0.69},{"p":"G. versicolor slope","v":"T","d":118,"y":-0.22},{"p":"G. versicolor slope","v":"T","d":148,"y":0.46},{"p":"G. versicolor slope","v":"T","d":178,"y":1.14},{"p":"G. versicolor slope","v":"T","d":202,"y":1.47},{"p":"G. versicolor slope","v":"T","d":218,"y":1.51},{"p":"G. versicolor slope","v":"T","d":238,"y":1.2},{"p":"G. versicolor slope","v":"T","d":268,"y":0.73},{"p":"G. versicolor slope","v":"T","d":292,"y":0.32},{"p":"G. versicolor slope","v":"T","d":316,"y":-0.22},{"p":"G. versicolor slope","v":"T","d":340,"y":-0.69},{"p":"G. versicolor slope","v":"T","d":357,"y":-0.82},{"p":"G. versicolor slope","v":"T","d":371,"y":-0.86},
{"p":"A. granatensis ridge","v":"VPD","d":-5,"y":-0.37},{"p":"A. granatensis ridge","v":"VPD","d":22,"y":-0.7},{"p":"A. granatensis ridge","v":"VPD","d":46,"y":-0.64},{"p":"A. granatensis ridge","v":"VPD","d":69,"y":-0.67},{"p":"A. granatensis ridge","v":"VPD","d":87,"y":-0.7},{"p":"A. granatensis ridge","v":"VPD","d":111,"y":-0.53},{"p":"A. granatensis ridge","v":"VPD","d":135,"y":-0.2},{"p":"A. granatensis ridge","v":"VPD","d":159,"y":0.41},{"p":"A. granatensis ridge","v":"VPD","d":183,"y":1.35},{"p":"A. granatensis ridge","v":"VPD","d":201,"y":1.88},{"p":"A. granatensis ridge","v":"VPD","d":213,"y":1.9},{"p":"A. granatensis ridge","v":"VPD","d":231,"y":1.35},{"p":"A. granatensis ridge","v":"VPD","d":255,"y":0.47},{"p":"A. granatensis ridge","v":"VPD","d":279,"y":-0.14},{"p":"A. granatensis ridge","v":"VPD","d":303,"y":-0.43},{"p":"A. granatensis ridge","v":"VPD","d":333,"y":-0.57},{"p":"A. granatensis ridge","v":"VPD","d":371,"y":-0.43},
{"p":"A. granatensis slope","v":"VPD","d":-5,"y":-0.37},{"p":"A. granatensis slope","v":"VPD","d":25,"y":-0.63},{"p":"A. granatensis slope","v":"VPD","d":55,"y":-0.63},{"p":"A. granatensis slope","v":"VPD","d":85,"y":-0.7},{"p":"A. granatensis slope","v":"VPD","d":109,"y":-0.49},{"p":"A. granatensis slope","v":"VPD","d":133,"y":-0.16},{"p":"A. granatensis slope","v":"VPD","d":157,"y":0.31},{"p":"A. granatensis slope","v":"VPD","d":181,"y":1.32},{"p":"A. granatensis slope","v":"VPD","d":199,"y":1.79},{"p":"A. granatensis slope","v":"VPD","d":211,"y":1.86},{"p":"A. granatensis slope","v":"VPD","d":229,"y":1.32},{"p":"A. granatensis slope","v":"VPD","d":253,"y":0.44},{"p":"A. granatensis slope","v":"VPD","d":277,"y":-0.02},{"p":"A. granatensis slope","v":"VPD","d":301,"y":-0.32},{"p":"A. granatensis slope","v":"VPD","d":337,"y":-0.46},{"p":"A. granatensis slope","v":"VPD","d":371,"y":-0.37},
{"p":"C. galianoi ridge","v":"VPD","d":-5,"y":-0.49},{"p":"C. galianoi ridge","v":"VPD","d":22,"y":-0.77},{"p":"C. galianoi ridge","v":"VPD","d":51,"y":-0.7},{"p":"C. galianoi ridge","v":"VPD","d":81,"y":-0.74},{"p":"C. galianoi ridge","v":"VPD","d":105,"y":-0.49},{"p":"C. galianoi ridge","v":"VPD","d":129,"y":-0.16},{"p":"C. galianoi ridge","v":"VPD","d":153,"y":0.25},{"p":"C. galianoi ridge","v":"VPD","d":177,"y":1.32},{"p":"C. galianoi ridge","v":"VPD","d":195,"y":2.0},{"p":"C. galianoi ridge","v":"VPD","d":205,"y":2.14},{"p":"C. galianoi ridge","v":"VPD","d":219,"y":1.73},{"p":"C. galianoi ridge","v":"VPD","d":237,"y":0.85},{"p":"C. galianoi ridge","v":"VPD","d":261,"y":0.11},{"p":"C. galianoi ridge","v":"VPD","d":285,"y":-0.43},{"p":"C. galianoi ridge","v":"VPD","d":309,"y":-0.63},{"p":"C. galianoi ridge","v":"VPD","d":339,"y":-0.57},{"p":"C. galianoi ridge","v":"VPD","d":371,"y":-0.49},
{"p":"C. galianoi slope","v":"VPD","d":-5,"y":-0.37},{"p":"C. galianoi slope","v":"VPD","d":22,"y":-0.63},{"p":"C. galianoi slope","v":"VPD","d":51,"y":-0.57},{"p":"C. galianoi slope","v":"VPD","d":81,"y":-0.68},{"p":"C. galianoi slope","v":"VPD","d":111,"y":-0.43},{"p":"C. galianoi slope","v":"VPD","d":135,"y":-0.16},{"p":"C. galianoi slope","v":"VPD","d":159,"y":0.31},{"p":"C. galianoi slope","v":"VPD","d":183,"y":1.32},{"p":"C. galianoi slope","v":"VPD","d":201,"y":1.84},{"p":"C. galianoi slope","v":"VPD","d":215,"y":1.73},{"p":"C. galianoi slope","v":"VPD","d":231,"y":1.05},{"p":"C. galianoi slope","v":"VPD","d":255,"y":0.25},{"p":"C. galianoi slope","v":"VPD","d":279,"y":-0.3},{"p":"C. galianoi slope","v":"VPD","d":309,"y":-0.57},{"p":"C. galianoi slope","v":"VPD","d":340,"y":-0.5},{"p":"C. galianoi slope","v":"VPD","d":371,"y":-0.45},
{"p":"G. versicolor slope","v":"VPD","d":-5,"y":-0.34},{"p":"G. versicolor slope","v":"VPD","d":22,"y":-0.7},{"p":"G. versicolor slope","v":"VPD","d":40,"y":-0.68},{"p":"G. versicolor slope","v":"VPD","d":58,"y":-0.57},{"p":"G. versicolor slope","v":"VPD","d":76,"y":-0.62},{"p":"G. versicolor slope","v":"VPD","d":94,"y":-0.61},{"p":"G. versicolor slope","v":"VPD","d":118,"y":-0.34},{"p":"G. versicolor slope","v":"VPD","d":142,"y":0.07},{"p":"G. versicolor slope","v":"VPD","d":160,"y":0.47},{"p":"G. versicolor slope","v":"VPD","d":178,"y":1.22},{"p":"G. versicolor slope","v":"VPD","d":196,"y":1.76},{"p":"G. versicolor slope","v":"VPD","d":208,"y":1.82},{"p":"G. versicolor slope","v":"VPD","d":226,"y":1.22},{"p":"G. versicolor slope","v":"VPD","d":244,"y":0.41},{"p":"G. versicolor slope","v":"VPD","d":268,"y":-0.2},{"p":"G. versicolor slope","v":"VPD","d":292,"y":-0.51},{"p":"G. versicolor slope","v":"VPD","d":328,"y":-0.57},{"p":"G. versicolor slope","v":"VPD","d":371,"y":-0.41}
]},
"spacing":2,
"vconcat":[
{"columns":3,"align":"each","bounds":"flush","spacing":{"row":17,"column":0},
"concat":[
{"width":1,"height":2,"view":{"stroke":null},"data":{"values":[]},"mark":"text","title":{"text":"a","orient":"left","angle":0,"fontSize":14,"fontWeight":"bold","offset":26,"align":"right","baseline":"middle","anchor":"middle"}},
{"data":{"values":[{"p":"B. nana ridge","sp":"B. nana"},{"p":"E. hermaphroditum ridge","sp":"E. hermaphroditum"},{"p":"P. caerulea slope","sp":"P. caerulea"}]},
"width":536,"height":2,"view":{"stroke":null},
"mark":{"type":"text","align":"left","baseline":"middle","fontSize":10.5,"fontWeight":"bold","fontStyle":"italic","color":"#111"},
"encoding":{"x":{"field":"p","type":"nominal","bandPosition":0,"scale":{"type":"band","domain":["B. nana ridge","B. nana slope","E. hermaphroditum ridge","E. hermaphroditum slope","P. caerulea slope"],"paddingInner":0.04,"paddingOuter":0},"axis":null},"text":{"field":"sp"}}},
{"width":1,"height":2,"view":{"stroke":null},"data":{"values":[]},"mark":"text"},
{"width":1,"height":84,"view":{"stroke":null},"data":{"values":[{"level":0}]},"mark":{"type":"rule","opacity":0},"encoding":{"y":{"field":"level","type":"quantitative","scale":{"domain":[-102,105],"nice":false},"axis":{"title":null,"values":[-100,-50,0,50,100]}}}},
{"data":{"name":"a"},
"facet":{"column":{"field":"p","type":"nominal","sort":["B. nana ridge","B. nana slope","E. hermaphroditum ridge","E. hermaphroditum slope","P. caerulea slope"],"title":null,"header":{"labelExpr":"indexof(datum.value,'ridge')>=0?'ridge':'slope'"}}},
"spacing":4,"bounds":"flush",
"spec":{"width":104,"height":84,
"layer":[
{"data":{"name":"months"},"mark":{"type":"rule","color":"#dcdcdc","strokeWidth":0.7},"encoding":{"x":{"field":"m","type":"quantitative","scale":{"domain":[-5,371],"nice":false},"axis":null}}},
{"data":{"name":"gA"},"mark":{"type":"rule","color":"#ededed","strokeWidth":0.6},"encoding":{"y":{"field":"g","type":"quantitative","scale":{"domain":[-102,105],"nice":false},"axis":null}}},
{"data":{"name":"bars"},"mark":{"type":"rule","color":"#000","strokeWidth":3.5,"strokeCap":"butt"},"encoding":{"x":{"field":"start","type":"quantitative","scale":{"domain":[-5,371],"nice":false},"axis":null},"x2":{"field":"end"},"y":{"datum":-96,"type":"quantitative","scale":{"domain":[-102,105],"nice":false},"axis":null}}},
{"transform":[{"filter":"datum.v=='S'"}],"mark":{"type":"line","color":"#f3dc48","opacity":0.45,"strokeWidth":3.2,"interpolate":"monotone"},"encoding":{"x":{"field":"d","type":"quantitative","scale":{"domain":[-5,371],"nice":false},"axis":null},"y":{"field":"y","type":"quantitative","scale":{"domain":[-102,105],"nice":false},"axis":null}}},
{"transform":[{"filter":"datum.v=='S'"}],"mark":{"type":"line","strokeWidth":1.1,"interpolate":"monotone"},"encoding":{"x":{"field":"d","type":"quantitative","scale":{"domain":[-5,371],"nice":false},"axis":null},"y":{"field":"y","type":"quantitative","scale":{"domain":[-102,105],"nice":false},"axis":null},"color":{"datum":"Modelled stem diameter change","scale":{"domain":["Modelled environmental variable","Modelled stem diameter change"],"range":["#353f73","#f3dc48"]}}}},
{"transform":[{"filter":"datum.v=='SM'"}],"mark":{"type":"line","strokeWidth":0.9,"interpolate":"monotone","clip":true},"encoding":{"x":{"field":"d","type":"quantitative","scale":{"domain":[-5,371],"nice":false},"axis":null},"y":{"field":"y","type":"quantitative","scale":{"domain":[-1.26,1.3],"nice":false},"axis":null},"color":{"datum":"Modelled environmental variable","scale":{"domain":["Modelled environmental variable","Modelled stem diameter change"],"range":["#353f73","#f3dc48"]},"legend":{"title":null,"orient":"none","legendX":568,"legendY":617,"direction":"vertical","symbolType":"square","symbolSize":70,"symbolStrokeWidth":1.5,"labelFontSize":5,"labelColor":"#333","labelLimit":0,"rowPadding":0,"labelOffset":3,"labelExpr":"datum.label=='Modelled environmental variable'?['Modelled environmental','variable']:['Modelled stem','diameter change']"}}}},
{"data":{"values":[{"level":0}]},"mark":{"type":"rule","color":"#222","strokeDash":[3,2],"strokeWidth":0.8},"encoding":{"y":{"field":"level","type":"quantitative","scale":{"domain":[-1.26,1.3],"nice":false},"axis":null}}}
],
"resolve":{"scale":{"y":"independent"}}}},
{"width":1,"height":84,"view":{"stroke":null},"data":{"values":[{"level":0}]},"mark":{"type":"rule","opacity":0},"encoding":{"y":{"field":"level","type":"quantitative","scale":{"domain":[-1.26,1.3],"nice":false},"axis":{"orient":"right","title":"Soil moisture [m³/m³]","values":[-1,-0.5,0,0.5,1],"format":".1f"}}}},
{"width":1,"height":84,"view":{"stroke":null},"data":{"values":[{"level":0}]},"mark":{"type":"rule","opacity":0},"encoding":{"y":{"field":"level","type":"quantitative","scale":{"domain":[-102,105],"nice":false},"axis":{"title":"Stem diameter change [µm]","titleFontSize":7,"values":[-100,-50,0,50,100]}}}},
{"data":{"name":"a"},
"facet":{"column":{"field":"p","type":"nominal","sort":["B. nana ridge","B. nana slope","E. hermaphroditum ridge","E. hermaphroditum slope","P. caerulea slope"],"title":null,"header":{"labelExpr":"indexof(datum.value,'ridge')>=0?'ridge':'slope'"}}},
"spacing":4,"bounds":"flush",
"spec":{"width":104,"height":84,
"layer":[
{"data":{"name":"months"},"mark":{"type":"rule","color":"#dcdcdc","strokeWidth":0.7},"encoding":{"x":{"field":"m","type":"quantitative","scale":{"domain":[-5,371],"nice":false},"axis":null}}},
{"data":{"name":"gA"},"mark":{"type":"rule","color":"#ededed","strokeWidth":0.6},"encoding":{"y":{"field":"g","type":"quantitative","scale":{"domain":[-102,105],"nice":false},"axis":null}}},
{"data":{"name":"bars"},"mark":{"type":"rule","color":"#000","strokeWidth":3.5,"strokeCap":"butt"},"encoding":{"x":{"field":"start","type":"quantitative","scale":{"domain":[-5,371],"nice":false},"axis":null},"x2":{"field":"end"},"y":{"datum":-96,"type":"quantitative","scale":{"domain":[-102,105],"nice":false},"axis":null}}},
{"transform":[{"filter":"datum.v=='S'"}],"mark":{"type":"line","color":"#f3dc48","opacity":0.45,"strokeWidth":3.2,"interpolate":"monotone"},"encoding":{"x":{"field":"d","type":"quantitative","scale":{"domain":[-5,371],"nice":false},"axis":null},"y":{"field":"y","type":"quantitative","scale":{"domain":[-102,105],"nice":false},"axis":null}}},
{"transform":[{"filter":"datum.v=='S'"}],"mark":{"type":"line","strokeWidth":1.1,"interpolate":"monotone"},"encoding":{"x":{"field":"d","type":"quantitative","scale":{"domain":[-5,371],"nice":false},"axis":null},"y":{"field":"y","type":"quantitative","scale":{"domain":[-102,105],"nice":false},"axis":null},"color":{"datum":"Modelled stem diameter change","scale":{"domain":["Modelled environmental variable","Modelled stem diameter change"],"range":["#353f73","#f3dc48"]}}}},
{"transform":[{"filter":"datum.v=='T'"}],"mark":{"type":"line","strokeWidth":0.9,"interpolate":"monotone","clip":true},"encoding":{"x":{"field":"d","type":"quantitative","scale":{"domain":[-5,371],"nice":false},"axis":null},"y":{"field":"y","type":"quantitative","scale":{"domain":[-1.26,1.3],"nice":false},"axis":null},"color":{"datum":"Modelled environmental variable","scale":{"domain":["Modelled environmental variable","Modelled stem diameter change"],"range":["#353f73","#f3dc48"]}}}},
{"data":{"values":[{"level":0}]},"mark":{"type":"rule","color":"#222","strokeDash":[3,2],"strokeWidth":0.8},"encoding":{"y":{"field":"level","type":"quantitative","scale":{"domain":[-1.26,1.3],"nice":false},"axis":null}}}
],
"resolve":{"scale":{"y":"independent"}}}},
{"width":1,"height":84,"view":{"stroke":null},"data":{"values":[{"level":0}]},"mark":{"type":"rule","opacity":0},"encoding":{"y":{"field":"level","type":"quantitative","scale":{"domain":[-1.26,1.3],"nice":false},"axis":{"orient":"right","title":"Temperature [°C]","values":[-1,-0.5,0,0.5,1],"format":".1f"}}}},
{"width":1,"height":84,"view":{"stroke":null},"data":{"values":[{"level":0}]},"mark":{"type":"rule","opacity":0},"encoding":{"y":{"field":"level","type":"quantitative","scale":{"domain":[-102,105],"nice":false},"axis":{"title":null,"values":[-100,-50,0,50,100]}}}},
{"data":{"name":"a"},
"facet":{"column":{"field":"p","type":"nominal","sort":["B. nana ridge","B. nana slope","E. hermaphroditum ridge","E. hermaphroditum slope","P. caerulea slope"],"title":null,"header":{"labelExpr":"indexof(datum.value,'ridge')>=0?'ridge':'slope'"}}},
"spacing":4,"bounds":"flush",
"spec":{"width":104,"height":84,
"layer":[
{"data":{"name":"months"},"mark":{"type":"rule","color":"#dcdcdc","strokeWidth":0.7},"encoding":{"x":{"field":"m","type":"quantitative","scale":{"domain":[-5,371],"nice":false},"axis":null}}},
{"data":{"name":"gA"},"mark":{"type":"rule","color":"#ededed","strokeWidth":0.6},"encoding":{"y":{"field":"g","type":"quantitative","scale":{"domain":[-102,105],"nice":false},"axis":null}}},
{"data":{"name":"bars"},"mark":{"type":"rule","color":"#000","strokeWidth":3.5,"strokeCap":"butt"},"encoding":{"x":{"field":"start","type":"quantitative","scale":{"domain":[-5,371],"nice":false},"axis":null},"x2":{"field":"end"},"y":{"datum":-96,"type":"quantitative","scale":{"domain":[-102,105],"nice":false},"axis":null}}},
{"transform":[{"filter":"datum.v=='S'"}],"mark":{"type":"line","color":"#f3dc48","opacity":0.45,"strokeWidth":3.2,"interpolate":"monotone"},"encoding":{"x":{"field":"d","type":"quantitative","scale":{"domain":[-5,371],"nice":false},"axis":null},"y":{"field":"y","type":"quantitative","scale":{"domain":[-102,105],"nice":false},"axis":null}}},
{"transform":[{"filter":"datum.v=='S'"}],"mark":{"type":"line","strokeWidth":1.1,"interpolate":"monotone"},"encoding":{"x":{"field":"d","type":"quantitative","scale":{"domain":[-5,371],"nice":false},"axis":null},"y":{"field":"y","type":"quantitative","scale":{"domain":[-102,105],"nice":false},"axis":null},"color":{"datum":"Modelled stem diameter change","scale":{"domain":["Modelled environmental variable","Modelled stem diameter change"],"range":["#353f73","#f3dc48"]}}}},
{"transform":[{"filter":"datum.v=='VPD'"}],"mark":{"type":"line","strokeWidth":0.9,"interpolate":"monotone","clip":true},"encoding":{"x":{"field":"d","type":"quantitative","scale":{"domain":[-5,371],"nice":false},"axis":null},"y":{"field":"y","type":"quantitative","scale":{"domain":[-1.26,1.3],"nice":false},"axis":null},"color":{"datum":"Modelled environmental variable","scale":{"domain":["Modelled environmental variable","Modelled stem diameter change"],"range":["#353f73","#f3dc48"]}}}},
{"data":{"values":[{"level":0}]},"mark":{"type":"rule","color":"#222","strokeDash":[3,2],"strokeWidth":0.8},"encoding":{"y":{"field":"level","type":"quantitative","scale":{"domain":[-1.26,1.3],"nice":false},"axis":null}}}
],
"resolve":{"scale":{"y":"independent"}}}},
{"width":1,"height":84,"view":{"stroke":null},"data":{"values":[{"level":0}]},"mark":{"type":"rule","opacity":0},"encoding":{"y":{"field":"level","type":"quantitative","scale":{"domain":[-1.26,1.3],"nice":false},"axis":{"orient":"right","title":"Vapour pressure deficit [kPa]","values":[-1,-0.5,0,0.5,1],"format":".1f"}}}},
{"width":1,"height":1,"view":{"stroke":null},"data":{"values":[]},"mark":"text"},
{"data":{"name":"a"},
"facet":{"column":{"field":"p","type":"nominal","sort":["B. nana ridge","B. nana slope","E. hermaphroditum ridge","E. hermaphroditum slope","P. caerulea slope"],"title":null,"header":{"labels":false}}},
"spacing":4,"bounds":"flush",
"spec":{"width":104,"height":1,"view":{"stroke":null},"mark":{"type":"rule","opacity":0},"encoding":{"x":{"field":"d","type":"quantitative","scale":{"domain":[-5,371],"nice":false},"axis":{"title":null,"orient":"top","values":[100,200,300],"labelPadding":8}}}}},
{"width":1,"height":1,"view":{"stroke":null},"data":{"values":[]},"mark":"text"}
]},
{"columns":3,"align":"each","bounds":"flush","spacing":{"row":17,"column":0},
"concat":[
{"width":1,"height":2,"view":{"stroke":null},"data":{"values":[]},"mark":"text","title":{"text":"b","orient":"left","angle":0,"fontSize":14,"fontWeight":"bold","offset":26,"align":"right","baseline":"middle","anchor":"middle"}},
{"data":{"values":[{"p":"A. granatensis ridge","sp":"A. granatensis"},{"p":"C. galianoi ridge","sp":"C. galianoi"},{"p":"G. versicolor slope","sp":"G. versicolor"}]},
"width":541,"height":2,"view":{"stroke":null},
"mark":{"type":"text","align":"left","baseline":"middle","fontSize":10.5,"fontWeight":"bold","fontStyle":"italic","color":"#111"},
"encoding":{"x":{"field":"p","type":"nominal","bandPosition":0,"scale":{"type":"band","domain":["A. granatensis ridge","A. granatensis slope","C. galianoi ridge","C. galianoi slope","G. versicolor slope"],"paddingInner":0.04,"paddingOuter":0},"axis":null},"text":{"field":"sp"}}},
{"width":1,"height":2,"view":{"stroke":null},"data":{"values":[]},"mark":"text"},
{"width":1,"height":85,"view":{"stroke":null},"data":{"values":[{"level":0}]},"mark":{"type":"rule","opacity":0},"encoding":{"y":{"field":"level","type":"quantitative","scale":{"domain":[-103,177],"nice":false},"axis":{"title":null,"values":[-100,0,100]}}}},
{"data":{"name":"b"},
"facet":{"column":{"field":"p","type":"nominal","sort":["A. granatensis ridge","A. granatensis slope","C. galianoi ridge","C. galianoi slope","G. versicolor slope"],"title":null,"header":{"labelExpr":"indexof(datum.value,'ridge')>=0?'ridge':'slope'"}}},
"spacing":4,"bounds":"flush",
"spec":{"width":105,"height":85,
"layer":[
{"data":{"name":"months"},"mark":{"type":"rule","color":"#dcdcdc","strokeWidth":0.7},"encoding":{"x":{"field":"m","type":"quantitative","scale":{"domain":[-5,371],"nice":false},"axis":null}}},
{"data":{"name":"gB"},"mark":{"type":"rule","color":"#ededed","strokeWidth":0.6},"encoding":{"y":{"field":"g","type":"quantitative","scale":{"domain":[-103,177],"nice":false},"axis":null}}},
{"data":{"name":"bars"},"mark":{"type":"rule","color":"#000","strokeWidth":3.5,"strokeCap":"butt"},"encoding":{"x":{"field":"start","type":"quantitative","scale":{"domain":[-5,371],"nice":false},"axis":null},"x2":{"field":"end"},"y":{"datum":-93,"type":"quantitative","scale":{"domain":[-103,177],"nice":false},"axis":null}}},
{"transform":[{"filter":"datum.v=='S'"}],"mark":{"type":"line","color":"#f3dc48","opacity":0.4,"strokeWidth":4,"interpolate":"monotone"},"encoding":{"x":{"field":"d","type":"quantitative","scale":{"domain":[-5,371],"nice":false},"axis":null},"y":{"field":"y","type":"quantitative","scale":{"domain":[-103,177],"nice":false},"axis":null}}},
{"transform":[{"filter":"datum.v=='S'"}],"mark":{"type":"line","strokeWidth":1.1,"interpolate":"monotone"},"encoding":{"x":{"field":"d","type":"quantitative","scale":{"domain":[-5,371],"nice":false},"axis":null},"y":{"field":"y","type":"quantitative","scale":{"domain":[-103,177],"nice":false},"axis":null},"color":{"datum":"Modelled stem diameter change","scale":{"domain":["Modelled environmental variable","Modelled stem diameter change"],"range":["#353f73","#f3dc48"]}}}},
{"transform":[{"filter":"datum.v=='SM'"}],"mark":{"type":"line","strokeWidth":0.9,"interpolate":"monotone","clip":true},"encoding":{"x":{"field":"d","type":"quantitative","scale":{"domain":[-5,371],"nice":false},"axis":null},"y":{"field":"y","type":"quantitative","scale":{"domain":[-1.27,2.19],"nice":false},"axis":null},"color":{"datum":"Modelled environmental variable","scale":{"domain":["Modelled environmental variable","Modelled stem diameter change"],"range":["#353f73","#f3dc48"]}}}},
{"data":{"values":[{"level":0}]},"mark":{"type":"rule","color":"#222","strokeDash":[3,2],"strokeWidth":0.8},"encoding":{"y":{"field":"level","type":"quantitative","scale":{"domain":[-1.27,2.19],"nice":false},"axis":null}}}
],
"resolve":{"scale":{"y":"independent"}}}},
{"width":1,"height":85,"view":{"stroke":null},"data":{"values":[{"level":0}]},"mark":{"type":"rule","opacity":0},"encoding":{"y":{"field":"level","type":"quantitative","scale":{"domain":[-1.27,2.19],"nice":false},"axis":{"orient":"right","title":"Soil moisture [m³/m³]","values":[-1,0,1,2],"format":"d"}}}},
{"width":1,"height":85,"view":{"stroke":null},"data":{"values":[{"level":0}]},"mark":{"type":"rule","opacity":0},"encoding":{"y":{"field":"level","type":"quantitative","scale":{"domain":[-103,177],"nice":false},"axis":{"title":"Stem diameter change [µm]","titleFontSize":7,"values":[-100,0,100]}}}},
{"data":{"name":"b"},
"facet":{"column":{"field":"p","type":"nominal","sort":["A. granatensis ridge","A. granatensis slope","C. galianoi ridge","C. galianoi slope","G. versicolor slope"],"title":null,"header":{"labelExpr":"indexof(datum.value,'ridge')>=0?'ridge':'slope'"}}},
"spacing":4,"bounds":"flush",
"spec":{"width":105,"height":85,
"layer":[
{"data":{"name":"months"},"mark":{"type":"rule","color":"#dcdcdc","strokeWidth":0.7},"encoding":{"x":{"field":"m","type":"quantitative","scale":{"domain":[-5,371],"nice":false},"axis":null}}},
{"data":{"name":"gB"},"mark":{"type":"rule","color":"#ededed","strokeWidth":0.6},"encoding":{"y":{"field":"g","type":"quantitative","scale":{"domain":[-103,177],"nice":false},"axis":null}}},
{"data":{"name":"bars"},"mark":{"type":"rule","color":"#000","strokeWidth":3.5,"strokeCap":"butt"},"encoding":{"x":{"field":"start","type":"quantitative","scale":{"domain":[-5,371],"nice":false},"axis":null},"x2":{"field":"end"},"y":{"datum":-93,"type":"quantitative","scale":{"domain":[-103,177],"nice":false},"axis":null}}},
{"transform":[{"filter":"datum.v=='S'"}],"mark":{"type":"line","color":"#f3dc48","opacity":0.4,"strokeWidth":4,"interpolate":"monotone"},"encoding":{"x":{"field":"d","type":"quantitative","scale":{"domain":[-5,371],"nice":false},"axis":null},"y":{"field":"y","type":"quantitative","scale":{"domain":[-103,177],"nice":false},"axis":null}}},
{"transform":[{"filter":"datum.v=='S'"}],"mark":{"type":"line","strokeWidth":1.1,"interpolate":"monotone"},"encoding":{"x":{"field":"d","type":"quantitative","scale":{"domain":[-5,371],"nice":false},"axis":null},"y":{"field":"y","type":"quantitative","scale":{"domain":[-103,177],"nice":false},"axis":null},"color":{"datum":"Modelled stem diameter change","scale":{"domain":["Modelled environmental variable","Modelled stem diameter change"],"range":["#353f73","#f3dc48"]}}}},
{"transform":[{"filter":"datum.v=='T'"}],"mark":{"type":"line","strokeWidth":0.9,"interpolate":"monotone","clip":true},"encoding":{"x":{"field":"d","type":"quantitative","scale":{"domain":[-5,371],"nice":false},"axis":null},"y":{"field":"y","type":"quantitative","scale":{"domain":[-1.27,2.19],"nice":false},"axis":null},"color":{"datum":"Modelled environmental variable","scale":{"domain":["Modelled environmental variable","Modelled stem diameter change"],"range":["#353f73","#f3dc48"]}}}},
{"data":{"values":[{"level":0}]},"mark":{"type":"rule","color":"#222","strokeDash":[3,2],"strokeWidth":0.8},"encoding":{"y":{"field":"level","type":"quantitative","scale":{"domain":[-1.27,2.19],"nice":false},"axis":null}}}
],
"resolve":{"scale":{"y":"independent"}}}},
{"width":1,"height":85,"view":{"stroke":null},"data":{"values":[{"level":0}]},"mark":{"type":"rule","opacity":0},"encoding":{"y":{"field":"level","type":"quantitative","scale":{"domain":[-1.27,2.19],"nice":false},"axis":{"orient":"right","title":"Temperature [°C]","values":[-1,0,1,2],"format":"d"}}}},
{"width":1,"height":85,"view":{"stroke":null},"data":{"values":[{"level":0}]},"mark":{"type":"rule","opacity":0},"encoding":{"y":{"field":"level","type":"quantitative","scale":{"domain":[-103,177],"nice":false},"axis":{"title":null,"values":[-100,0,100]}}}},
{"data":{"name":"b"},
"facet":{"column":{"field":"p","type":"nominal","sort":["A. granatensis ridge","A. granatensis slope","C. galianoi ridge","C. galianoi slope","G. versicolor slope"],"title":null,"header":{"labelExpr":"indexof(datum.value,'ridge')>=0?'ridge':'slope'"}}},
"spacing":4,"bounds":"flush",
"spec":{"width":105,"height":85,
"layer":[
{"data":{"name":"months"},"mark":{"type":"rule","color":"#dcdcdc","strokeWidth":0.7},"encoding":{"x":{"field":"m","type":"quantitative","scale":{"domain":[-5,371],"nice":false},"axis":null}}},
{"data":{"name":"gB"},"mark":{"type":"rule","color":"#ededed","strokeWidth":0.6},"encoding":{"y":{"field":"g","type":"quantitative","scale":{"domain":[-103,177],"nice":false},"axis":null}}},
{"data":{"name":"bars"},"mark":{"type":"rule","color":"#000","strokeWidth":3.5,"strokeCap":"butt"},"encoding":{"x":{"field":"start","type":"quantitative","scale":{"domain":[-5,371],"nice":false},"axis":null},"x2":{"field":"end"},"y":{"datum":-93,"type":"quantitative","scale":{"domain":[-103,177],"nice":false},"axis":null}}},
{"transform":[{"filter":"datum.v=='S'"}],"mark":{"type":"line","color":"#f3dc48","opacity":0.4,"strokeWidth":4,"interpolate":"monotone"},"encoding":{"x":{"field":"d","type":"quantitative","scale":{"domain":[-5,371],"nice":false},"axis":null},"y":{"field":"y","type":"quantitative","scale":{"domain":[-103,177],"nice":false},"axis":null}}},
{"transform":[{"filter":"datum.v=='S'"}],"mark":{"type":"line","strokeWidth":1.1,"interpolate":"monotone"},"encoding":{"x":{"field":"d","type":"quantitative","scale":{"domain":[-5,371],"nice":false},"axis":null},"y":{"field":"y","type":"quantitative","scale":{"domain":[-103,177],"nice":false},"axis":null},"color":{"datum":"Modelled stem diameter change","scale":{"domain":["Modelled environmental variable","Modelled stem diameter change"],"range":["#353f73","#f3dc48"]}}}},
{"transform":[{"filter":"datum.v=='VPD'"}],"mark":{"type":"line","strokeWidth":0.9,"interpolate":"monotone","clip":true},"encoding":{"x":{"field":"d","type":"quantitative","scale":{"domain":[-5,371],"nice":false},"axis":null},"y":{"field":"y","type":"quantitative","scale":{"domain":[-1.27,2.19],"nice":false},"axis":null},"color":{"datum":"Modelled environmental variable","scale":{"domain":["Modelled environmental variable","Modelled stem diameter change"],"range":["#353f73","#f3dc48"]}}}},
{"data":{"values":[{"level":0}]},"mark":{"type":"rule","color":"#222","strokeDash":[3,2],"strokeWidth":0.8},"encoding":{"y":{"field":"level","type":"quantitative","scale":{"domain":[-1.27,2.19],"nice":false},"axis":null}}}
],
"resolve":{"scale":{"y":"independent"}}}},
{"width":1,"height":85,"view":{"stroke":null},"data":{"values":[{"level":0}]},"mark":{"type":"rule","opacity":0},"encoding":{"y":{"field":"level","type":"quantitative","scale":{"domain":[-1.27,2.19],"nice":false},"axis":{"orient":"right","title":"Vapour pressure deficit [kPa]","values":[-1,0,1,2],"format":"d"}}}},
{"width":1,"height":1,"view":{"stroke":null},"data":{"values":[]},"mark":"text"},
{"data":{"name":"b"},
"facet":{"column":{"field":"p","type":"nominal","sort":["A. granatensis ridge","A. granatensis slope","C. galianoi ridge","C. galianoi slope","G. versicolor slope"],"title":null,"header":{"labels":false}}},
"spacing":4,"bounds":"flush",
"spec":{"width":105,"height":1,"view":{"stroke":null},"mark":{"type":"rule","opacity":0},"encoding":{"x":{"field":"d","type":"quantitative","scale":{"domain":[-5,371],"nice":false},"axis":{"title":null,"orient":"top","values":[100,200,300],"labelPadding":8}}}}},
{"width":1,"height":1,"view":{"stroke":null},"data":{"values":[]},"mark":"text"}
]}
]
}
